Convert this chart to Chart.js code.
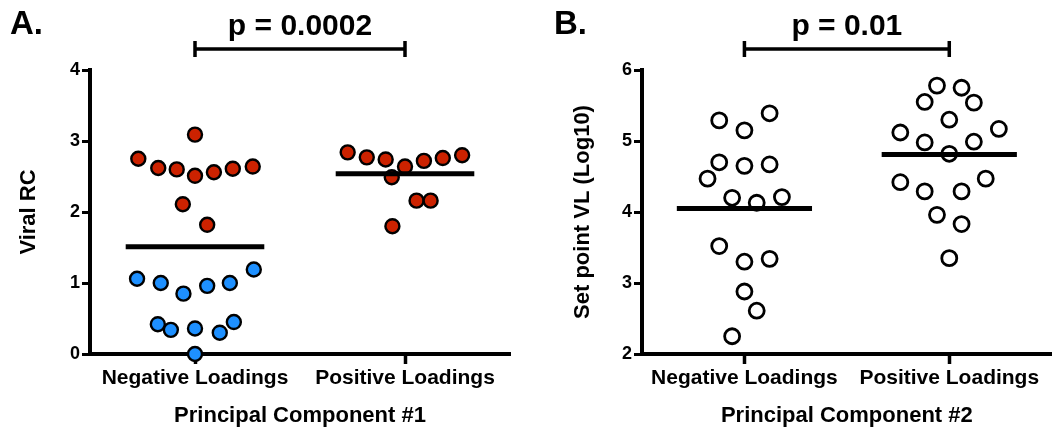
<!DOCTYPE html>
<html>
<head>
<meta charset="utf-8">
<script src="https://cdn.jsdelivr.net/npm/chart.js@4"></script>
<style>
  body { margin: 0; background: #fff; }
  #wrap { position: relative; width: 1062px; height: 429px; }
  #boxA { position: absolute; left: 0; top: 0; width: 530px; height: 429px; }
  #boxB { position: absolute; left: 530px; top: 0; width: 532px; height: 429px; }
</style>
</head>
<body>
<div id="wrap">
  <div id="boxA"><canvas id="chartA"></canvas></div>
  <div id="boxB"><canvas id="chartB"></canvas></div>
</div>
<script>
// categories on x
const categories = ['Negative Loadings', 'Positive Loadings']

// Panel A - Viral RC, PC #1
// negative loadings, red (high RC)
const aNegRedY = [2.75, 2.62, 2.60, 3.09, 2.51, 2.56, 2.61, 2.64, 2.11, 1.82]
const aNegRedX = [-0.27, -0.175, -0.087, 0, 0, 0.09, 0.18, 0.275, -0.058, 0.058]
// negative loadings, blue (low RC)
const aNegBlueY = [1.06, 1.00, 0.85, 0.96, 1.00, 1.19, 0.42, 0.34, 0.36, 0.30, 0.45, 0.00]
const aNegBlueX = [-0.276, -0.163, -0.055, 0.058, 0.166, 0.28, -0.177, -0.115, 0, 0.118, 0.185, 0]
// positive loadings, red
const aPosY = [2.84, 2.77, 2.74, 2.64, 2.72, 2.76, 2.80, 2.49, 2.16, 2.16, 1.80]
const aPosX = [-0.273, -0.182, -0.092, 0, 0.09, 0.18, 0.272, -0.063, 0.055, 0.122, -0.06]
const aMeans = [1.51, 2.54]
const aTicks = [0, 1, 2, 3, 4]

// Panel B - set point VL, PC #2
const bNegY = [5.29, 5.15, 5.39, 4.70, 4.65, 4.67, 4.47, 4.20, 4.13, 4.21, 3.52, 3.30, 3.34, 2.88, 2.61, 2.25]
const bNegX = [-0.123, 0, 0.123, -0.123, 0, 0.123, -0.18, -0.06, 0.06, 0.183, -0.123, 0, 0.123, 0, 0.06, -0.06]
const bPosY = [5.78, 5.75, 5.55, 5.54, 5.30, 5.12, 5.17, 4.98, 4.99, 4.82, 4.42, 4.29, 4.29, 4.47, 3.96, 3.83, 3.35]
const bPosX = [-0.06, 0.06, -0.12, 0.12, 0, -0.239, 0.242, -0.12, 0.12, 0, -0.239, -0.12, 0.06, 0.178, -0.06, 0.06, 0]
const bMeans = [4.05, 4.81]
const bTicks = [2, 3, 4, 5, 6]

const RED = '#cc2200'
const BLUE = '#1e90ff'
const FONT = '"Liberation Sans", Arial, sans-serif'
const halfMean = 0.33

function pts(cat, xs, ys) {
    return ys.map((y, i) => ({ x: cat + xs[i], y: y }))
}

function meanSet(cat, m) {
    return {
        data: [{ x: cat - halfMean, y: m }, { x: cat + halfMean, y: m }],
        showLine: true, borderColor: '#000', borderWidth: 5,
        pointRadius: 0, borderCapStyle: 'butt'
    }
}

function dotSet(data, fill, r, bw) {
    return {
        data: data, backgroundColor: fill, borderColor: '#000',
        borderWidth: bw, pointRadius: r, pointHoverRadius: r, clip: false
    }
}

// panel letter, p value and bracket
const annot = {
    id: 'annot',
    afterDraw(chart, args, opts) {
        const ctx = chart.ctx
        const xs = chart.scales.x
        const x0 = xs.getPixelForValue(0), x1 = xs.getPixelForValue(1)
        ctx.save()
        ctx.fillStyle = '#000'
        ctx.font = 'bold 33px ' + FONT
        ctx.textAlign = 'left'
        ctx.textBaseline = 'alphabetic'
        ctx.fillText(opts.letter, opts.letterX, 34)
        ctx.font = 'bold 30px ' + FONT
        ctx.textAlign = 'center'
        ctx.fillText(opts.p, (x0 + x1) / 2, 35)
        ctx.strokeStyle = '#000'
        ctx.lineWidth = 3.5
        ctx.beginPath()
        ctx.moveTo(x0, 49); ctx.lineTo(x1, 49)
        ctx.moveTo(x0, 41); ctx.lineTo(x0, 57)
        ctx.moveTo(x1, 41); ctx.lineTo(x1, 57)
        ctx.stroke()
        ctx.restore()
    }
}

function makeChart(id, datasets, yTicks, yTitle, xTitle, padLeft, yWidth, padRight, letter, letterX, p) {
    return new Chart(document.getElementById(id), {
        type: 'scatter',
        data: { datasets: datasets },
        plugins: [annot],
        options: {
            responsive: true,
            maintainAspectRatio: false,
            animation: false,
            layout: { padding: { top: 70, right: padRight, left: padLeft, bottom: 0 } },
            plugins: {
                legend: { display: false },
                tooltip: { enabled: false },
                annot: { letter: letter, letterX: letterX, p: p }
            },
            scales: {
                x: {
                    type: 'linear', min: -0.5, max: 1.5,
                    afterBuildTicks: (s) => { s.ticks = [{ value: 0 }, { value: 1 }] },
                    afterFit: (s) => { s.height = 75 },
                    border: { display: true, color: '#000', width: 4 },
                    grid: { display: true, drawOnChartArea: false, drawTicks: true, tickLength: 10, tickWidth: 3.5, color: '#000' },
                    ticks: {
                        callback: (v) => categories[v],
                        color: '#000', font: { family: FONT, size: 21, weight: 'bold' },
                        padding: 2, maxRotation: 0, autoSkip: false
                    },
                    title: {
                        display: true, text: xTitle, color: '#000',
                        font: { family: FONT, size: 22, weight: 'bold' },
                        padding: { top: 4, bottom: 0 }
                    }
                },
                y: {
                    min: yTicks[0], max: yTicks[yTicks.length - 1],
                    afterBuildTicks: (s) => { s.ticks = yTicks.map(v => ({ value: v })) },
                    afterFit: (s) => { s.width = yWidth },
                    border: { display: true, color: '#000', width: 4 },
                    grid: { display: true, drawOnChartArea: false, drawTicks: true, tickLength: 8, tickWidth: 3, color: '#000' },
                    ticks: {
                        color: '#000', font: { family: FONT, size: 18, weight: 'bold' },
                        padding: 2
                    },
                    title: {
                        display: true, text: yTitle, color: '#000',
                        font: { family: FONT, size: 22, weight: 'bold' },
                        padding: { top: 0, bottom: 8 }
                    }
                }
            }
        }
    })
}

makeChart('chartA', [
    meanSet(0, aMeans[0]),
    meanSet(1, aMeans[1]),
    dotSet(pts(0, aNegRedX, aNegRedY), RED, 7, 2.4),
    dotSet(pts(0, aNegBlueX, aNegBlueY), BLUE, 7, 2.4),
    dotSet(pts(1, aPosX, aPosY), RED, 7, 2.4)
], aTicks, 'Viral RC', 'Principal Component #1', 16, 74, 20, 'A.', 10, 'p = 0.0002')

makeChart('chartB', [
    meanSet(0, bMeans[0]),
    meanSet(1, bMeans[1]),
    dotSet(pts(0, bNegX, bNegY), '#fff', 7.5, 2.8),
    dotSet(pts(1, bPosX, bPosY), '#fff', 7.5, 2.8)
], bTicks, 'Set point VL (Log10)', 'Principal Component #2', 40, 72, 2, 'B.', 24, 'p = 0.01')
</script>
</body>
</html>
